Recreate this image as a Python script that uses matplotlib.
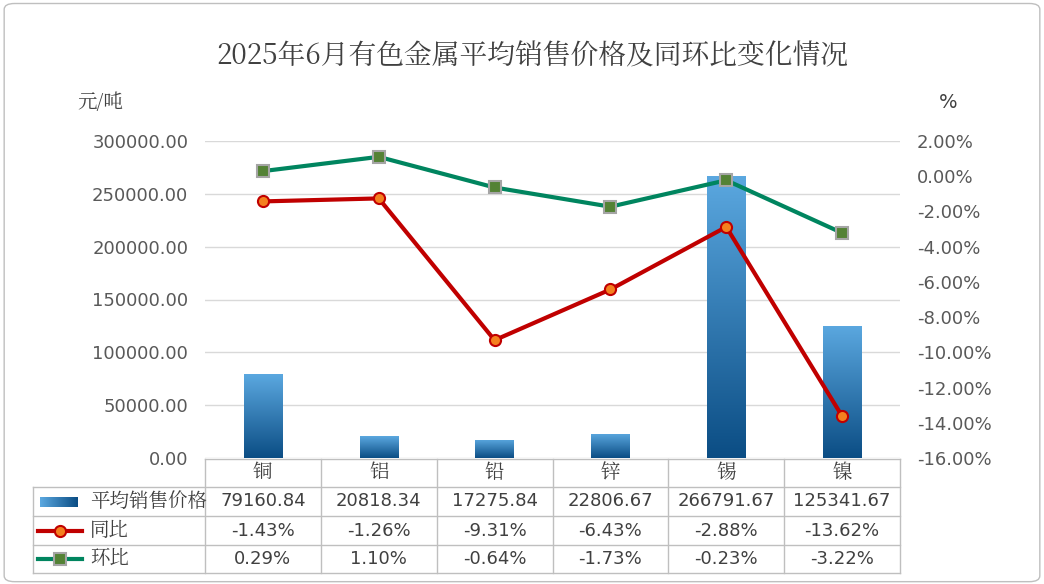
import matplotlib
matplotlib.use("Agg")
import matplotlib.pyplot as plt
import numpy as np
from matplotlib.patches import FancyBboxPatch
from matplotlib.lines import Line2D
from matplotlib import font_manager as fm
from matplotlib.colors import LinearSegmentedColormap

cjk_path = None
for f in fm.findSystemFonts():
    if 'CJK' in f and ('SC' in f or 'Regular' in f or 'ttc' in f.lower()):
        cjk_path = f
        if 'Regular' in f:
            break
if cjk_path:
    fm.fontManager.addfont(cjk_path)
    cjk_name = fm.FontProperties(fname=cjk_path).get_name()
else:
    cjk_name = 'Noto Sans CJK SC'
plt.rcParams['font.family'] = ['DejaVu Sans', cjk_name]

categories = ['铜', '铝', '铅', '锌', '锡', '镍']
price = [79160.84, 20818.34, 17275.84, 22806.67, 266791.67, 125341.67]
yoy = [-1.43, -1.26, -9.31, -6.43, -2.88, -13.62]
mom = [0.29, 1.10, -0.64, -1.73, -0.23, -3.22]
series_names = ['平均销售价格', '同比', '环比']

def cjk(size, bold=False):
    if cjk_path:
        return fm.FontProperties(fname=cjk_path, size=size, weight='bold' if bold else 'normal')
    return fm.FontProperties(family=cjk_name, size=size, weight='bold' if bold else 'normal')

W, H = 1044, 584
fig = plt.figure(figsize=(W/100, H/100), dpi=100)
fig.patches.append(FancyBboxPatch((0.004, 0.004), 0.992, 0.99, boxstyle="round,pad=0,rounding_size=0.01",
                                  transform=fig.transFigure, fill=False, ec='#BFBFBF', lw=1))

L, R, T, B = 205, 900, 141, 458
ax = fig.add_axes([L/W, 1-B/H, (R-L)/W, (B-T)/H])
x = np.arange(len(categories))
bars = ax.bar(x, price, width=0.33, color='#2E75B6', zorder=2)
ax.set_yticks(np.arange(0, 300001, 50000))
ax.set_yticklabels([f'{v:.2f}' for v in np.arange(0, 300001, 50000)], fontsize=13, color='#595959')
ax.set_xticks([])
ax.grid(axis='y', color='#D9D9D9', lw=1, zorder=0)
for s in ax.spines.values():
    s.set_visible(False)
ax.tick_params(length=0, pad=12)

grad = np.linspace(0, 1, 256).reshape(-1, 1)
cmap = LinearSegmentedColormap.from_list('b', ['#0B4D84', '#5BA8E0'])
for b in bars:
    x0, y0, w, h = b.get_x(), b.get_y(), b.get_width(), b.get_height()
    im = ax.imshow(grad, extent=[x0, x0+w, y0, y0+h], aspect='auto', cmap=cmap, origin='lower', zorder=2)
    im.set_clip_path(b)
    b.set_alpha(0)
ax.set_xlim(-0.5, len(categories)-0.5)
ax.set_ylim(0, 300000)

ax2 = ax.twinx()
ax2.set_ylim(-16, 2)
yt = np.arange(-16, 2.1, 2)
ax2.set_yticks(yt)
ax2.set_yticklabels([f'{v:.2f}%' for v in yt], fontsize=13, color='#595959')
ax2.tick_params(length=0, pad=12)
for s in ax2.spines.values():
    s.set_visible(False)
ax2.plot(x, yoy, color='#C00000', lw=3, marker='o', ms=8, mfc='#F4801F', mec='#C00000', mew=1.5, zorder=3)
ax2.plot(x, mom, color='#00855F', lw=3, marker='s', ms=8, mfc='#548235', mec='#A5A5A5', mew=1.5, zorder=3)

fig.text(0.51, 1-57/H, '2025年6月有色金属平均销售价格及同环比变化情况', ha='center', va='center',
         fontproperties=cjk(20, True), color='#404040')
fig.text(100/W, 1-103/H, '元/吨', ha='center', va='center', fontproperties=cjk(14), color='#404040')
fig.text(948/W, 1-103/H, '%', ha='center', va='center', fontsize=14, color='#404040')

lc = '#BFBFBF'
rows_y = [459, 487, 516, 545, 573]
colw = (R-L)/len(categories)
def fx(p): return p/W
def fy(p): return 1-p/H
def hline(x0, x1, y):
    fig.add_artist(Line2D([fx(x0), fx(x1)], [fy(y), fy(y)], color=lc, lw=1))
def vline(x, y0, y1):
    fig.add_artist(Line2D([fx(x), fx(x)], [fy(y0), fy(y1)], color=lc, lw=1))
hline(L, R, rows_y[0])
for y in rows_y[1:]:
    hline(33, R, y)
for i in range(len(categories)+1):
    vline(L+i*colw, rows_y[0], rows_y[-1])
vline(33, rows_y[1], rows_y[-1])
for i, c in enumerate(categories):
    fig.text(fx(L+(i+0.5)*colw), fy((rows_y[0]+rows_y[1])/2), c, ha='center', va='center', fontproperties=cjk(14), color='#404040')
data_rows = [[f'{v:.2f}' for v in price], [f'{v:.2f}%' for v in yoy], [f'{v:.2f}%' for v in mom]]
for r, vals in enumerate(data_rows):
    yc = fy((rows_y[r+1]+rows_y[r+2])/2)
    for i, v in enumerate(vals):
        fig.text(fx(L+(i+0.5)*colw), yc, v, ha='center', va='center', fontsize=13, color='#404040')
    fig.text(fx(90), yc, series_names[r], ha='left', va='center', fontproperties=cjk(14), color='#404040')
yc = fy((rows_y[1]+rows_y[2])/2)
kax = fig.add_axes([fx(40), yc-5/H, 38/W, 10/H])
kax.imshow(np.linspace(0, 1, 64).reshape(1, -1), aspect='auto', cmap=LinearSegmentedColormap.from_list('k', ['#5BA8E0', '#0B4D84']))
kax.axis('off')
for r, (col, mk, mfc, mec) in enumerate([('#C00000', 'o', '#F4801F', '#C00000'), ('#00855F', 's', '#548235', '#A5A5A5')]):
    yc = fy((rows_y[r+2]+rows_y[r+3])/2)
    fig.add_artist(Line2D([fx(38), fx(82)], [yc, yc], color=col, lw=3))
    fig.add_artist(Line2D([fx(60)], [yc], marker=mk, ms=8, mfc=mfc, mec=mec, mew=1.5, color=col))

fig.savefig('out.png', dpi=100)
